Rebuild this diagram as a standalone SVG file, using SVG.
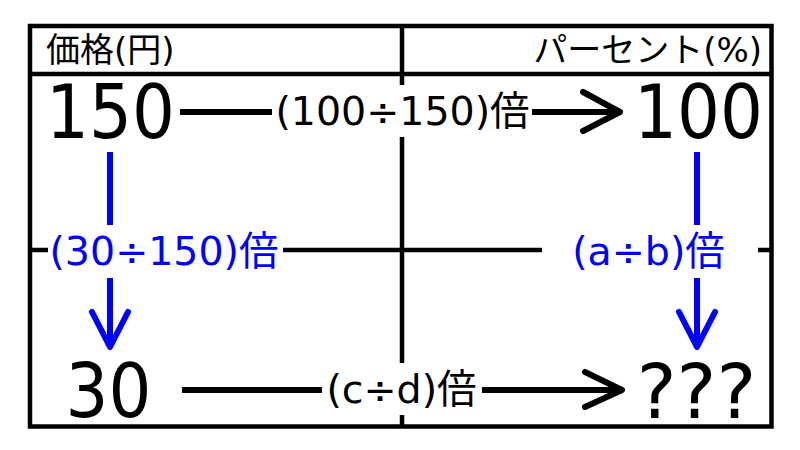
<svg xmlns="http://www.w3.org/2000/svg" width="800" height="450" viewBox="0 0 800 450">
<style>
.grid{stroke:#000;stroke-width:4.5;fill:none}
.arr{stroke:#000;stroke-width:6;fill:none}
.head{stroke-linecap:round;stroke-linejoin:round}
.blue{stroke:#0000ff}
.bg{fill:#fff}
text{font-family:"DejaVu Sans","Noto Sans CJK JP",sans-serif}
.hdr{font-size:34px;fill:#000}
.big{font-size:75px;fill:#000;text-anchor:middle}
.cond{font-family:"DejaVu Sans Condensed","DejaVu Sans",sans-serif;font-stretch:condensed}
.lbl{font-size:39.5px;fill:#000;text-anchor:middle}
.bl{fill:#0000ff}
</style>
<rect width="800" height="450" fill="#fff"/>
<g id="table">
<rect class="grid" x="30" y="26" width="741.5" height="400.5"/>
<line class="grid" x1="30" y1="74" x2="771.5" y2="74"/>
<line class="grid" x1="402" y1="26" x2="402" y2="426.5"/>
<line class="grid" x1="30" y1="250" x2="771.5" y2="250"/>
</g>
<g id="connectors">
<line class="arr" x1="180" y1="112" x2="618" y2="112"/>
<polyline class="arr head" points="583,92 620,112 583,131"/>
<line class="arr" x1="182" y1="390" x2="620" y2="390"/>
<polyline class="arr head" points="585,372 622,390 585,407"/>
<line class="arr blue" x1="110" y1="152" x2="110" y2="345"/>
<polyline class="arr head blue" points="92,312 110,347 128,312"/>
<line class="arr blue" x1="697" y1="152" x2="697" y2="345"/>
<polyline class="arr head blue" points="679,312 697,347 715,312"/>
</g>
<g id="header-price"><text class="hdr" x="46" y="62">価格(円)</text></g>
<g id="header-percent"><text class="hdr" x="762" y="62" text-anchor="end">パーセント(%)</text></g>
<g id="n150"><text class="big cond" x="110.5" y="138">150</text></g>
<g id="n100"><text class="big cond" x="698.5" y="138">100</text></g>
<g id="n30"><text class="big cond" x="108.5" y="417">30</text></g>
<g id="nq"><text class="big" x="696.5" y="418">???</text></g>
<g id="label-top"><rect class="bg" x="272" y="85" width="260" height="52"/><text class="lbl" x="402.5" y="125">(100÷150)倍</text></g>
<g id="label-left"><rect class="bg" x="48" y="225" width="235" height="53"/><text class="lbl bl" x="164" y="265">(30÷150)倍</text></g>
<g id="label-right"><rect class="bg" x="542" y="225" width="216" height="53"/><text class="lbl bl" x="648.5" y="265">(a÷b)倍</text></g>
<g id="label-bottom"><rect class="bg" x="322" y="363" width="160" height="52"/><text class="lbl" x="401.5" y="403">(c÷d)倍</text></g>
</svg>
